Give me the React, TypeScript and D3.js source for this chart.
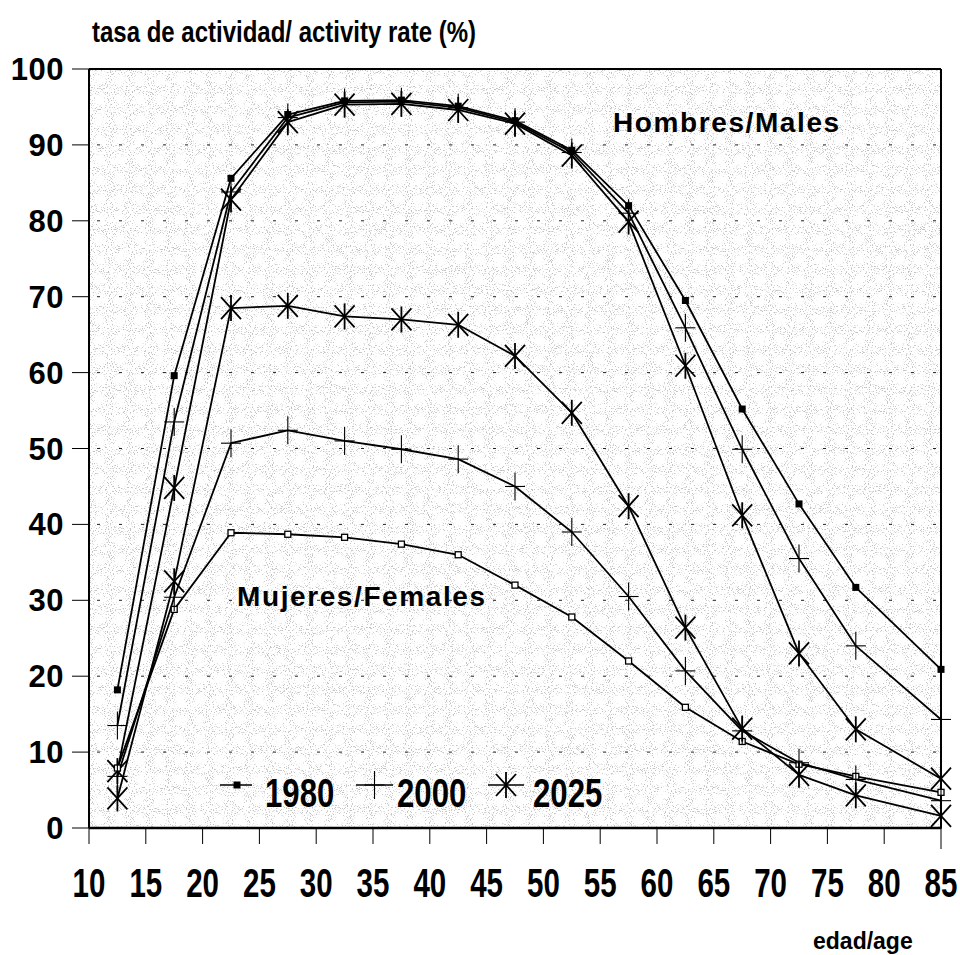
import React from "react";
import * as d3 from "d3";

// age groups (midpoints), last group is 85+
const ages = [12.5, 17.5, 22.5, 27.5, 32.5, 37.5, 42.5, 47.5, 52.5, 57.5, 62.5, 67.5, 72.5, 77.5, 85];

const males1980 = [18.2, 59.6, 85.6, 94.0, 95.8, 95.9, 95.1, 93.2, 89.3, 82.0, 69.5, 55.2, 42.7, 31.7, 20.9];
const males2000 = [13.5, 53.5, 83.8, 93.6, 95.6, 95.7, 94.9, 93.0, 89.0, 81.0, 65.9, 49.9, 35.5, 24.0, 14.3];
const males2025 = [7.5, 44.8, 82.8, 93.0, 95.3, 95.4, 94.6, 92.8, 88.6, 79.9, 60.9, 41.2, 23.0, 13.0, 6.5];

const females1980 = [7.9, 28.8, 38.9, 38.7, 38.3, 37.4, 36.0, 32.0, 27.8, 22.0, 15.9, 11.4, 8.4, 6.8, 4.7];
const females2000 = [6.8, 30.4, 50.7, 52.4, 51.0, 49.9, 48.6, 45.0, 39.0, 30.5, 20.7, 12.8, 8.6, 6.4, 3.6];
const females2025 = [3.9, 32.5, 68.5, 68.8, 67.4, 67.0, 66.3, 62.2, 54.7, 42.4, 26.4, 13.1, 7.0, 4.3, 1.6];

const xTicks = [10, 15, 20, 25, 30, 35, 40, 45, 50, 55, 60, 65, 70, 75, 80, 85];
const yTicks = [0, 10, 20, 30, 40, 50, 60, 70, 80, 90, 100];
const years = ["1980", "2000", "2025"];

const FONT = "'Liberation Sans', Arial, Helvetica, sans-serif";

type Kind = "filled" | "open" | "plus" | "star";

const series: { values: number[]; kind: Kind }[] = [
  { values: males1980, kind: "filled" },
  { values: males2000, kind: "plus" },
  { values: males2025, kind: "star" },
  { values: females1980, kind: "open" },
  { values: females2000, kind: "plus" },
  { values: females2025, kind: "star" },
];

const Marker = ({ kind, cx, cy }: { kind: Kind; cx: number; cy: number }) => {
  if (kind === "filled")
    return <rect x={cx - 3.5} y={cy - 3.5} width={7} height={7} fill="#000" />;
  if (kind === "open")
    return <rect x={cx - 3} y={cy - 3} width={6} height={6} fill="#fff" stroke="#000" strokeWidth={1.3} />;
  if (kind === "plus")
    return (
      <g stroke="#000" strokeWidth={1.1}>
        <line x1={cx - 10} x2={cx + 10} y1={cy} y2={cy} />
        <line x1={cx} x2={cx} y1={cy - 14} y2={cy + 14} />
      </g>
    );
  return (
    <g stroke="#000" strokeWidth={1.8}>
      <line x1={cx} x2={cx} y1={cy - 13} y2={cy + 13} />
      <line x1={cx - 10} x2={cx + 10} y1={cy - 11} y2={cy + 11} />
      <line x1={cx - 10} x2={cx + 10} y1={cy + 11} y2={cy - 11} />
    </g>
  );
};

export default function App() {
  const width = 960;
  const height = 955;
  const x = d3.scaleLinear().domain([10, 85]).range([89, 941]);
  const y = d3.scaleLinear().domain([0, 100]).range([828, 69]);
  const line = d3
    .line<number>()
    .x((_, i) => x(ages[i]))
    .y((d) => y(d));

  const legendItems: { label: string; kind: Kind; x0: number; x1: number; tx: number }[] = [
    { label: years[0], kind: "filled", x0: 220, x1: 252, tx: 265 },
    { label: years[1], kind: "plus", x0: 356, x1: 393, tx: 397 },
    { label: years[2], kind: "star", x0: 488, x1: 524, tx: 533 },
  ];

  return (
    <svg width={width} height={height} style={{ display: "block", position: "absolute", left: 0, top: 0 }}>
      <defs>
        <filter id="grain" x="0" y="0" width="100%" height="100%">
          <feTurbulence type="fractalNoise" baseFrequency="0.95" numOctaves="1" seed="7" result="n" />
          <feColorMatrix
            in="n"
            type="matrix"
            values="0 0 0 0 0.4  0 0 0 0 0.4  0 0 0 0 0.4  9 0 0 0 -5.2"
          />
        </filter>
      </defs>
      <rect width={width} height={height} fill="#fff" />
      <rect x={89} y={69} width={852} height={759} fill="#fff" filter="url(#grain)" opacity={0.7} />

      {/* horizontal grid */}
      {yTicks
        .filter((t) => t > 0 && t < 100)
        .map((t) => (
          <line
            key={"g" + t}
            x1={x(10)}
            x2={x(85)}
            y1={y(t)}
            y2={y(t)}
            stroke="#222"
            strokeWidth={1}
            strokeDasharray="3 19"
            strokeDashoffset={-8}
          />
        ))}

      {/* frame */}
      <line x1={x(10)} x2={x(85)} y1={y(100)} y2={y(100)} stroke="#000" strokeWidth={2} />
      <line x1={x(85)} x2={x(85)} y1={y(100)} y2={y(0)} stroke="#000" strokeWidth={2} />
      <line x1={x(10)} x2={x(10)} y1={y(100)} y2={y(0)} stroke="#000" strokeWidth={2} />
      <line x1={x(10)} x2={x(85)} y1={y(0)} y2={y(0)} stroke="#000" strokeWidth={2.5} />

      {/* y axis */}
      {yTicks.map((t) => (
        <g key={"y" + t}>
          <line x1={72} x2={x(10)} y1={y(t)} y2={y(t)} stroke="#000" strokeWidth={1} />
          <text
            x={64}
            y={y(t) + 11}
            textAnchor="end"
            fontFamily={FONT}
            fontWeight="bold"
            fontSize={31}
            letterSpacing={0.5}
          >
            {t}
          </text>
        </g>
      ))}

      {/* x axis */}
      {xTicks.map((t) => (
        <g key={"x" + t}>
          <line x1={x(t)} x2={x(t)} y1={y(0)} y2={y(0) + (t === 85 ? 21 : 16)} stroke="#000" strokeWidth={1} />
          <text
            transform={`translate(${x(t)},897) scale(0.72,1)`}
            textAnchor="middle"
            fontFamily={FONT}
            fontWeight="bold"
            fontSize={41}
          >
            {t}
          </text>
        </g>
      ))}

      {/* series */}
      {series.map((s, i) => (
        <path key={"l" + i} d={line(s.values) || ""} fill="none" stroke="#000" strokeWidth={1.8} strokeLinejoin="round" />
      ))}
      {series.map((s, i) => (
        <g key={"m" + i}>
          {s.values.map((v, j) => (
            <Marker key={j} kind={s.kind} cx={x(ages[j])} cy={y(v)} />
          ))}
        </g>
      ))}

      {/* labels */}
      <text
        transform="translate(92,42) scale(0.8,1)"
        fontFamily={FONT}
        fontWeight="bold"
        fontSize={30}
      >
        tasa de actividad/ activity rate (%)
      </text>
      <text x={613} y={132} fontFamily={FONT} fontWeight="bold" fontSize={28} letterSpacing={1.6}>
        Hombres/Males
      </text>
      <text x={237} y={606} fontFamily={FONT} fontWeight="bold" fontSize={28} letterSpacing={1.6}>
        Mujeres/Females
      </text>
      <text x={813} y={949} fontFamily={FONT} fontWeight="bold" fontSize={23}>
        edad/age
      </text>

      {/* legend */}
      {legendItems.map((it) => (
        <g key={it.label}>
          <line x1={it.x0} x2={it.x1} y1={785} y2={785} stroke="#000" strokeWidth={1.5} />
          <Marker kind={it.kind} cx={(it.x0 + it.x1) / 2 + (it.kind === "filled" ? 1 : 0)} cy={785} />
          <text
            transform={`translate(${it.tx},807) scale(0.76,1)`}
            fontFamily={FONT}
            fontWeight="bold"
            fontSize={41}
          >
            {it.label}
          </text>
        </g>
      ))}
    </svg>
  );
}
